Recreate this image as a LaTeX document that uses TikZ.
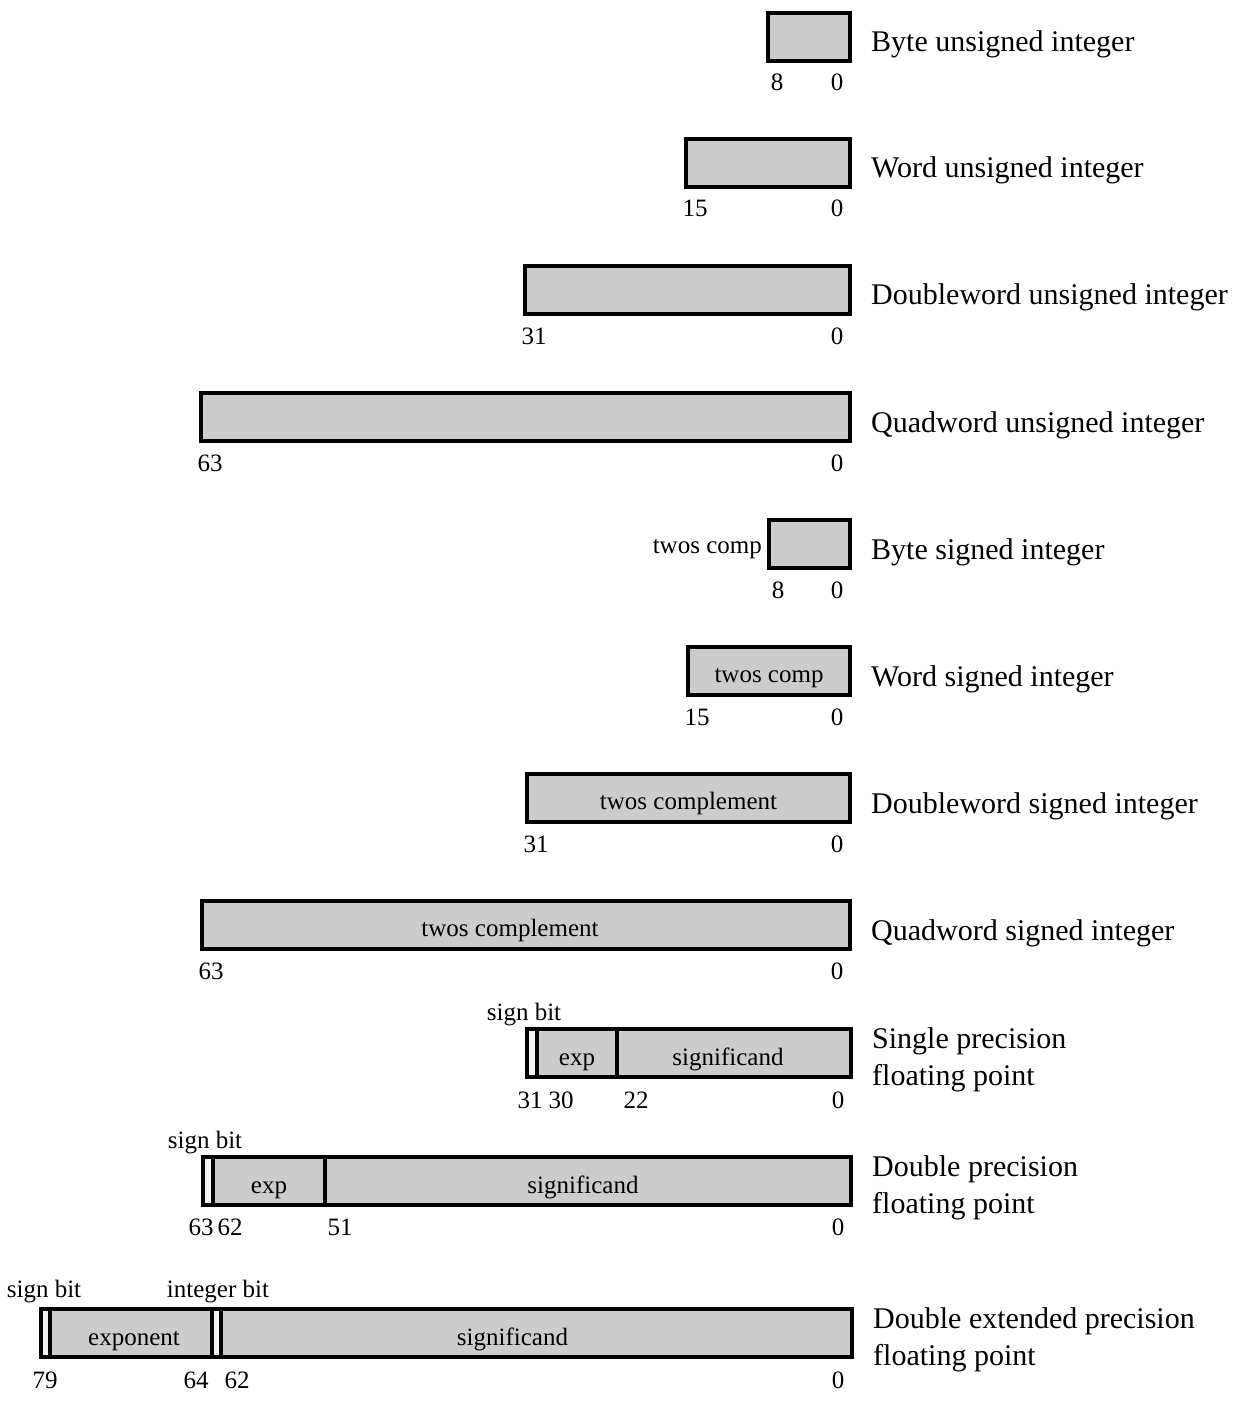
\documentclass[tikz,border=0pt]{standalone}
\usepackage{fontspec}
\setmainfont{Liberation Serif}
\usetikzlibrary{positioning}
\definecolor{fieldc}{gray}{0.80}
\definecolor{signc}{gray}{0.95}
\tikzset{
  field/.style={draw=black, fill=fieldc, line width=4pt, inner sep=0pt, outer sep=0pt,
                minimum height=48pt},
  signf/.style={field, fill=signc},
  inlbl/.style={font=\fontsize{25}{28}\selectfont, inner sep=0pt, anchor=base},
  bitno/.style={font=\fontsize{25}{28}\selectfont, inner sep=0pt, anchor=base},
  note/.style={font=\fontsize{25}{28}\selectfont, inner sep=0pt, anchor=base},
  dtype/.style={font=\fontsize{30}{37}\selectfont, align=left, anchor=base west, inner sep=0pt},
}

\begin{document}
\begin{tikzpicture}[x=1pt, y=-1pt]
\useasboundingbox (0,0) rectangle (1241,1404);

% integers: one box, its two end bits and its name
\foreach \nm/\lx/\ty/\hi/\txt in {bu/768/13/8/Byte unsigned integer,
    wu/686/139/15/Word unsigned integer, du/525/266/31/Doubleword unsigned integer,
    qu/201/393/63/Quadword unsigned integer, bs/769/520/8/Byte signed integer,
    ws/688/647/15/Word signed integer, ds/527/774/31/Doubleword signed integer,
    qs/202/901/63/Quadword signed integer} {
  \node[field, minimum width=850-\lx, anchor=north west] (\nm) at (\lx,\ty) {};
  \node[bitno] (\nm-hi) at ([xshift=9pt, yshift=-30pt]\nm.south west) {\hi};
  \node[bitno] (\nm-lo) at ([xshift=-13pt, yshift=-30pt]\nm.south east) {0};
  \node[dtype] (\nm-name) at ([xshift=21pt, yshift=-39pt]\nm.north east) {\txt};
}

% the signed ones are twos complement
\node[note, anchor=base east] (bs-t) at ([xshift=-7pt, yshift=-33pt]bs.north west) {twos comp};
\node[inlbl] (ws-t) at ([yshift=-11pt]ws.center) {twos comp};
\node[inlbl] (ds-t) at ([yshift=-11pt]ds.center) {twos complement};
\node[inlbl] (qs-t) at ([xshift=-16pt, yshift=-11pt]qs.center) {twos complement};

% ---------------- single precision ----------------
\node[signf, minimum width=10pt, anchor=north west] (sp-s) at (527,1029) {};
\node[field, minimum width=80pt, right=0pt of sp-s] (sp-e) {};
\node[field, minimum width=234pt, right=0pt of sp-e] (sp-m) {};
\node[inlbl] (sp-et) at ([yshift=-12pt]sp-e.center) {exp};
\node[inlbl] (sp-mt) at ([xshift=-6pt, yshift=-12pt]sp-m.center) {significand};
\node[note] (sp-sign) at (524,1020) {sign bit};
\node[bitno] (sp-31) at (530,1108) {31};
\node[bitno] (sp-30) at (561,1108) {30};
\node[bitno] (sp-22) at (636,1108) {22};
\node[bitno] (sp-0) at (838,1108) {0};
\node[dtype] (sp-name) at ([xshift=21pt, yshift=-56pt]sp-m.north east) {Single precision\\floating point};

% ---------------- double precision ----------------
\node[signf, minimum width=10pt, anchor=north west] (dp-s) at (203,1157) {};
\node[field, minimum width=112pt, right=0pt of dp-s] (dp-e) {};
\node[field, minimum width=526pt, right=0pt of dp-e] (dp-m) {};
\node[inlbl] (dp-et) at ([yshift=-12pt]dp-e.center) {exp};
\node[inlbl] (dp-mt) at ([xshift=-5pt, yshift=-12pt]dp-m.center) {significand};
\node[note] (dp-sign) at (205,1148) {sign bit};
\node[bitno] (dp-63) at (201,1235) {63};
\node[bitno] (dp-62) at (230,1235) {62};
\node[bitno] (dp-51) at (340,1235) {51};
\node[bitno] (dp-0) at (838,1235) {0};
\node[dtype] (dp-name) at ([xshift=21pt, yshift=-56pt]dp-m.north east) {Double precision\\floating point};

% ---------------- double extended precision ----------------
\node[signf, minimum width=9pt, anchor=north west] (ep-s) at (41,1309) {};
\node[field, minimum width=162pt, right=0pt of ep-s] (ep-e) {};
\node[signf, minimum width=9pt, right=0pt of ep-e] (ep-i) {};
\node[field, minimum width=631pt, right=0pt of ep-i] (ep-m) {};
\node[inlbl] (ep-et) at ([xshift=3pt, yshift=-12pt]ep-e.center) {exponent};
\node[inlbl] (ep-mt) at ([xshift=-24pt, yshift=-12pt]ep-m.center) {significand};
\node[note] (ep-sign) at (44,1297) {sign bit};
\node[note] (ep-int) at (218,1297) {integer bit};
\node[bitno] (ep-79) at (45,1388) {79};
\node[bitno] (ep-64) at (196,1388) {64};
\node[bitno] (ep-62) at (237,1388) {62};
\node[bitno] (ep-0) at (838,1388) {0};
\node[dtype] (ep-name) at ([xshift=21pt, yshift=-56pt]ep-m.north east) {Double extended precision\\floating point};
\end{tikzpicture}
\end{document}
